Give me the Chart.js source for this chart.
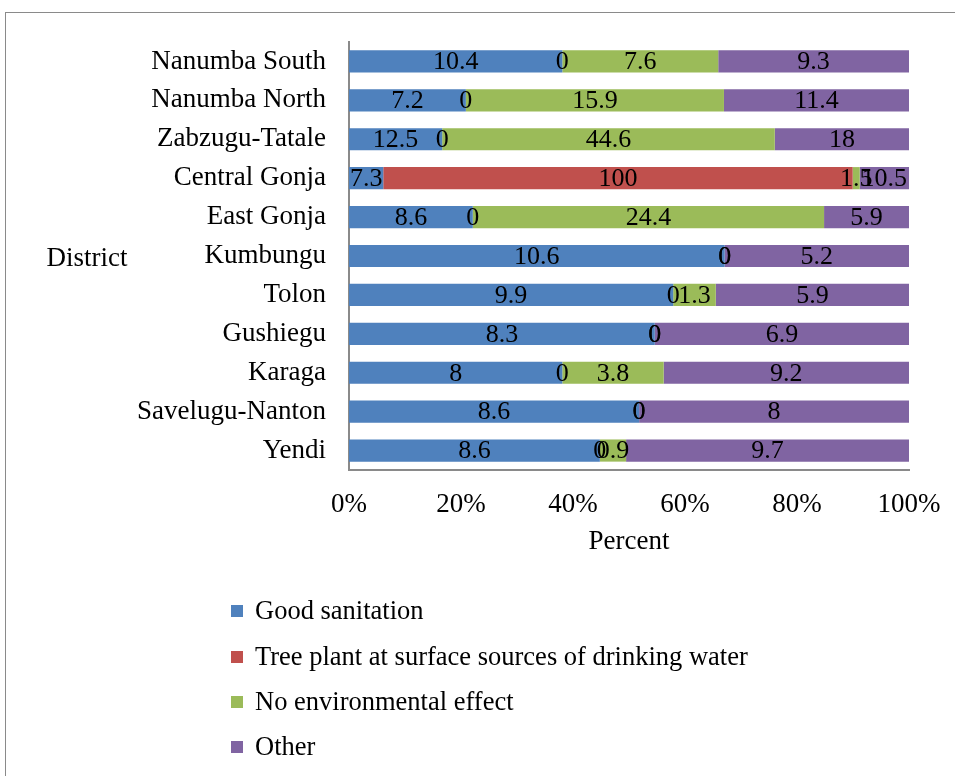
<!DOCTYPE html>
<html>
<head>
<meta charset="utf-8">
<script src="https://cdn.jsdelivr.net/npm/chart.js@4/dist/chart.umd.min.js"></script>
<style>
  html, body { margin: 0; padding: 0; background: #fff; overflow: hidden; }
  #wrap { position: relative; width: 955px; height: 776px; }
  #frame { position: absolute; left: 5px; top: 12px; width: 980px; height: 800px; border: 1.5px solid #8a8a8a; box-sizing: border-box; }
  canvas { position: absolute; left: 0; top: 0; }
</style>
</head>
<body>
<div id="wrap">
  <div id="frame"></div>
  <canvas id="c" width="955" height="776"></canvas>
</div>
<script>
const districts = ["Nanumba South", "Nanumba North", "Zabzugu-Tatale", "Central Gonja", "East Gonja", "Kumbungu", "Tolon", "Gushiegu", "Karaga", "Savelugu-Nanton", "Yendi"];
const goodSanitation = [10.4, 7.2, 12.5, 7.3, 8.6, 10.6, 9.9, 8.3, 8, 8.6, 8.6];
const treePlant = [0, 0, 0, 100, 0, 0, 0, 0, 0, 0, 0];
const noEnvEffect = [7.6, 15.9, 44.6, 1.5, 24.4, 0, 1.3, 0, 3.8, 0, 0.9];
const other = [9.3, 11.4, 18, 10.5, 5.9, 5.2, 5.9, 6.9, 9.2, 8, 9.7];
const seriesNames = ["Good sanitation", "Tree plant at surface sources of drinking water", "No environmental effect", "Other"];
const xTickLabels = ["0%", "20%", "40%", "60%", "80%", "100%"];
const xAxisTitle = "Percent";
const yAxisTitle = "District";

const seriesRaw = [goodSanitation, treePlant, noEnvEffect, other];
const colors = ["#4F81BD", "#C0504D", "#9BBB59", "#8064A2"];
const totals = districts.map((d, i) => seriesRaw.reduce((s, arr) => s + arr[i], 0));
const FONT = "'Liberation Serif', 'Times New Roman', serif";

const datasets = seriesRaw.map((arr, k) => ({
  label: seriesNames[k],
  raw: arr,
  data: arr.map((v, i) => v / totals[i] * 100),
  backgroundColor: colors[k],
  borderWidth: 0,
  barPercentage: 0.57,
  categoryPercentage: 1.0
}));

const labelsPlugin = {
  id: 'segLabels',
  afterDatasetsDraw(chart) {
    const ctx = chart.ctx;
    ctx.save();
    ctx.font = "26px " + FONT;
    ctx.fillStyle = "#000";
    ctx.textAlign = "center";
    ctx.textBaseline = "middle";
    chart.data.datasets.forEach((ds, di) => {
      const meta = chart.getDatasetMeta(di);
      meta.data.forEach((el, i) => {
        const cx = (el.x + el.base) / 2;
        ctx.fillText(String(ds.raw[i]), cx, el.y + 1);
      });
    });
    ctx.restore();
  },
  afterDraw(chart) {
    const ctx = chart.ctx;
    const area = chart.chartArea;
    ctx.save();
    ctx.font = "27px " + FONT;
    ctx.fillStyle = "#000";
    ctx.textAlign = "center";
    ctx.textBaseline = "middle";
    ctx.fillText(yAxisTitle, 87, (area.top + area.bottom) / 2 + 3);
    // legend
    const ys = [611, 657, 702, 747];
    ctx.font = "26.5px " + FONT;
    ctx.textAlign = "left";
    chart.data.datasets.forEach((ds, di) => {
      ctx.fillStyle = ds.backgroundColor;
      ctx.fillRect(231, ys[di] - 6, 12, 12);
      ctx.fillStyle = "#000";
      ctx.fillText(ds.label, 255, ys[di] + 1);
    });
    ctx.restore();
  }
};

new Chart(document.getElementById('c'), {
  type: 'bar',
  data: { labels: districts, datasets: datasets },
  options: {
    indexAxis: 'y',
    responsive: false,
    animation: false,
    layout: { padding: { top: 42, right: 46, bottom: 200, left: 0 } },
    plugins: { legend: { display: false }, tooltip: { enabled: false } },
    scales: {
      x: {
        stacked: true,
        min: 0, max: 100,
        grid: { display: false, drawTicks: false },
        border: { display: true, color: '#8a8a8a', width: 2 },
        ticks: {
          stepSize: 20,
          padding: 19,
          color: '#000',
          font: { family: FONT, size: 27 },
          callback: (v, idx) => xTickLabels[idx]
        },
        title: { display: true, text: xAxisTitle, color: '#000', font: { family: FONT, size: 27 }, padding: { top: 0, bottom: 18 } },
        afterFit: (s) => { s.height = 106; s.paddingRight = 0; s.paddingLeft = 0; }
      },
      y: {
        stacked: true,
        grid: { display: false, drawTicks: false },
        border: { display: true, color: '#8a8a8a', width: 2 },
        ticks: { padding: 23, color: '#000', font: { family: FONT, size: 27 } },
        afterFit: (s) => { s.width = 349; }
      }
    }
  },
  plugins: [labelsPlugin]
});
</script>
</body>
</html>
